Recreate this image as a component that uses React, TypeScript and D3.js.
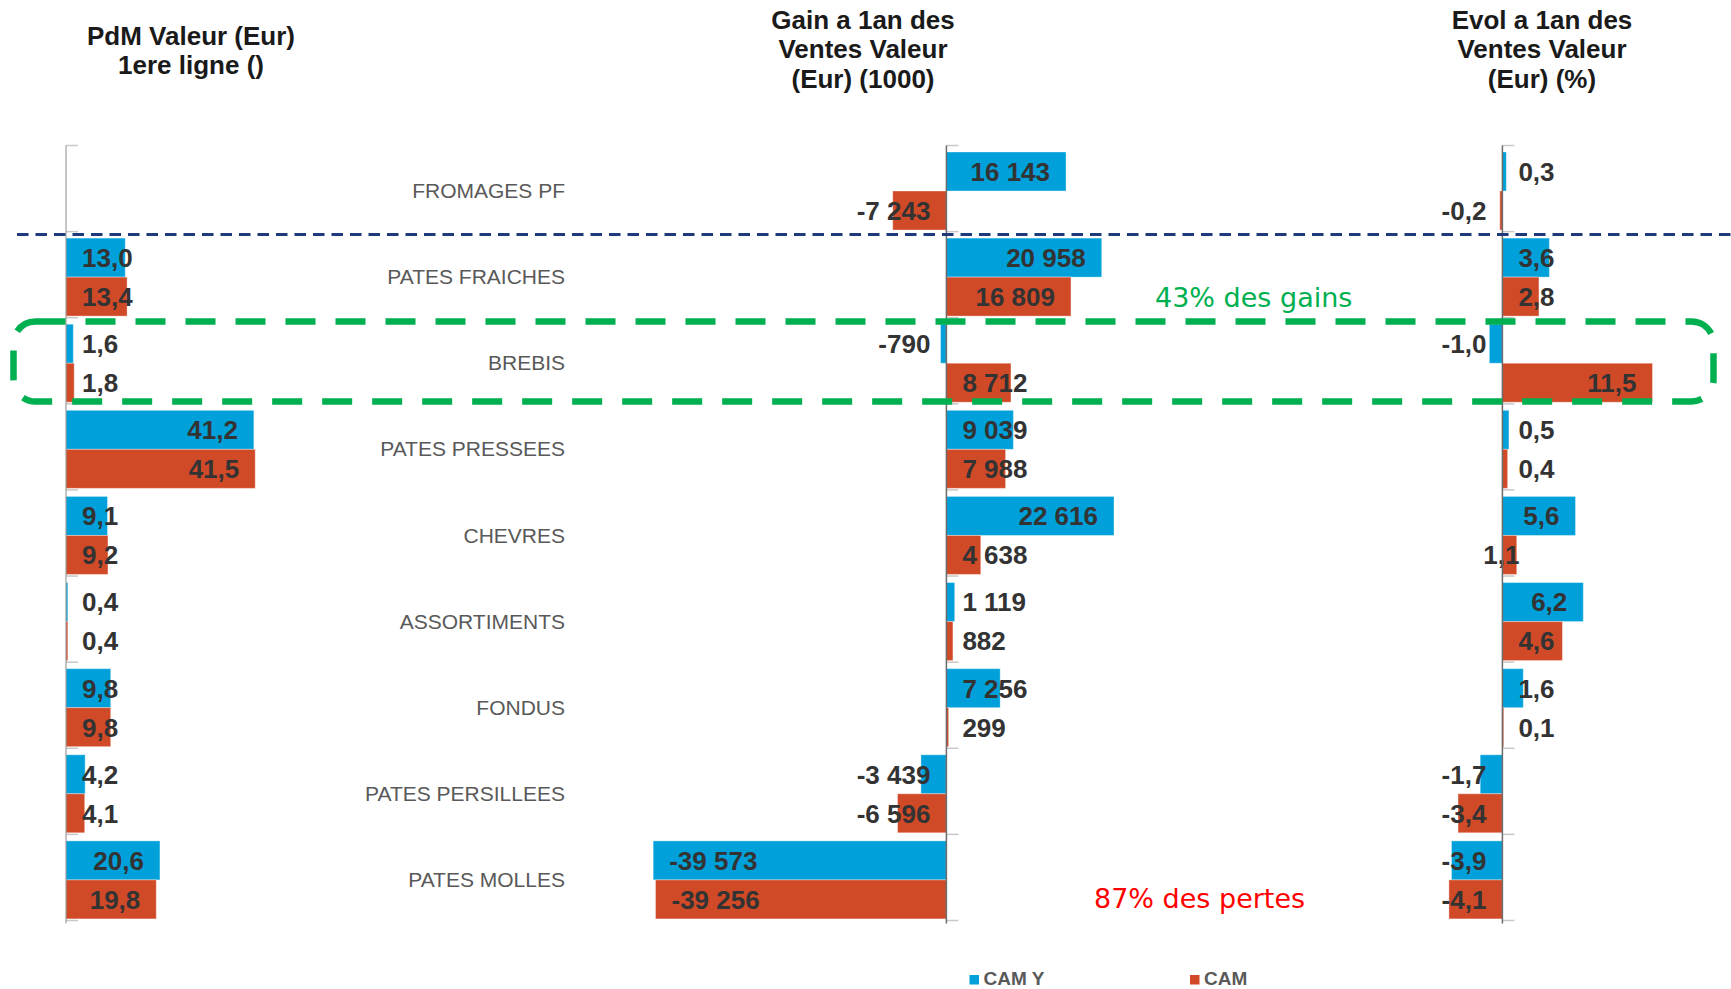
import React from "react";
import * as d3 from "d3";

// --- data ---
const categories = [
  "FROMAGES PF",
  "PATES FRAICHES",
  "BREBIS",
  "PATES PRESSEES",
  "CHEVRES",
  "ASSORTIMENTS",
  "FONDUS",
  "PATES PERSILLEES",
  "PATES MOLLES",
];
const seriesNames = ["CAM Y", "CAM"];

const pdmCamY = [null, 13.0, 1.6, 41.2, 9.1, 0.4, 9.8, 4.2, 20.6];
const pdmCam = [null, 13.4, 1.8, 41.5, 9.2, 0.4, 9.8, 4.1, 19.8];

const gainCamY = [16143, 20958, -790, 9039, 22616, 1119, 7256, -3439, -39573];
const gainCam = [-7243, 16809, 8712, 7988, 4638, 882, 299, -6596, -39256];

const evolCamY = [0.3, 3.6, -1.0, 0.5, 5.6, 6.2, 1.6, -1.7, -3.9];
const evolCam = [-0.2, 2.8, 11.5, 0.4, 1.1, 4.6, 0.1, -3.4, -4.1];

const titles = [
  ["PdM Valeur (Eur)", "1ere ligne ()"],
  ["Gain a 1an des", "Ventes Valeur", "(Eur) (1000)"],
  ["Evol a 1an des", "Ventes Valeur", "(Eur) (%)"],
];

const BLUE = "#00a1da";
const ORANGE = "#d14a28";
const colors = [BLUE, ORANGE];

const locale = d3.formatLocale({
  decimal: ",",
  thousands: " ",
  grouping: [3],
  currency: ["", ""],
  minus: "-",
});
const fmt1 = locale.format(".1f");
const fmt0 = locale.format(",.0f");

const W = 1731;
const H = 989;
const LABEL_FONT = "bold 26px 'Liberation Sans', Arial, sans-serif";

let ctx: CanvasRenderingContext2D | null = null;
function textWidth(s: string) {
  if (!ctx) ctx = document.createElement("canvas").getContext("2d");
  if (!ctx) return s.length * 13;
  ctx.font = LABEL_FONT;
  return ctx.measureText(s).width;
}

const y = d3.scaleBand<string>().domain(categories).range([145.5, 920.5]);
const ySub = d3.scaleBand<string>().domain(seriesNames).range([6.5, 84.5]);

type PanelProps = {
  x: d3.ScaleLinear<number, number>;
  data: (number | null)[][];
  fmt: (v: number) => string;
  axisColor: string;
  axisWidth: number;
  // labels drawn ending next to the axis whatever their value (Excel quirk)
  pinned?: { cat: string; s: number }[];
};

function Panel({ x, data, fmt, axisColor, axisWidth, pinned = [] }: PanelProps) {
  const x0 = x(0);
  const [top, bottom] = y.range();
  const pad = 16;
  return (
    <g>
      {data.map((vals, si) =>
        vals.map((v, ci) => {
          if (v === null) return null;
          const cat = categories[ci];
          const yy = (y(cat) ?? 0) + (ySub(seriesNames[si]) ?? 0);
          const h = ySub.bandwidth();
          const xv = x(v);
          const label = fmt(v);
          const w = textWidth(label);
          let tx: number;
          let anchor: "start" | "end";
          if (pinned.some((p) => p.cat === cat && p.s === si)) {
            tx = x0 + 17;
            anchor = "end";
          } else if (v >= 0) {
            tx = Math.max(xv - pad, x0 + pad + w);
            anchor = "end";
          } else {
            tx = Math.min(xv + pad, x0 - pad - w);
            anchor = "start";
          }
          return (
            <g key={`${si}-${ci}`}>
              <rect
                x={Math.min(x0, xv)}
                y={yy}
                width={Math.abs(xv - x0)}
                height={h}
                fill={colors[si]}
                stroke="#ffffff"
                strokeOpacity={0.35}
                strokeWidth={1}
              />
              <text
                x={tx}
                y={yy + h / 2}
                dy="0.36em"
                textAnchor={anchor}
                fill="#333333"
                style={{ font: LABEL_FONT }}
              >
                {label}
              </text>
            </g>
          );
        })
      )}
      {/* category axis ticks */}
      {[...categories.map((c) => y(c) ?? 0), bottom].map((ty, i) => (
        <line key={i} x1={x0} x2={x0 + 12} y1={ty} y2={ty} stroke="#c8c8c8" strokeWidth={1.5} />
      ))}
      <line x1={x0} x2={x0} y1={top} y2={bottom + 3} stroke={axisColor} strokeWidth={axisWidth} />
    </g>
  );
}

export default function App() {
  const x1 = d3.scaleLinear().domain([0, 50]).range([66, 66 + 228]);
  const x2 = d3.scaleLinear().domain([-40000, 25000]).range([946.4 - 296.4, 946.4 + 185.25]);
  const x3 = d3.scaleLinear().domain([-5, 15]).range([1502.4 - 65.25, 1502.4 + 195.75]);

  const titleX = [191, 863, 1542];
  const titleY = [[44.5, 73.5], [29, 58, 87.5], [29, 58, 87.5]];

  return (
    <svg
      width={W}
      height={H}
      style={{ position: "absolute", left: 0, top: 0, background: "#ffffff" }}
      fontFamily="'Liberation Sans', Arial, sans-serif"
    >
      {titles.map((lines, i) => (
        <text
          key={i}
          x={titleX[i]}
          textAnchor="middle"
          fontSize={26}
          fontWeight="bold"
          fill="#1a1a1a"
        >
          {lines.map((l, j) => (
            <tspan key={j} x={titleX[i]} y={titleY[i][j]}>
              {l}
            </tspan>
          ))}
        </text>
      ))}

      {categories.map((c) => (
        <text
          key={c}
          x={565}
          y={(y(c) ?? 0) + y.bandwidth() / 2 + 2}
          dy="0.36em"
          textAnchor="end"
          fontSize={21}
          fill="#595959"
        >
          {c}
        </text>
      ))}

      <Panel x={x1} data={[pdmCamY, pdmCam]} fmt={fmt1} axisColor="#8c8c8c" axisWidth={1} />
      <Panel x={x2} data={[gainCamY, gainCam]} fmt={fmt0} axisColor="#6b6b6b" axisWidth={1.5} />
      <Panel
        x={x3}
        data={[evolCamY, evolCam]}
        fmt={fmt1}
        axisColor="#6b6b6b"
        axisWidth={1.5}
        pinned={[{ cat: "CHEVRES", s: 1 }]}
      />

      {/* separator under FROMAGES PF */}
      <line
        x1={17}
        x2={W}
        y1={234.5}
        y2={234.5}
        stroke="#1f3a7a"
        strokeWidth={3}
        strokeDasharray="11.5 7"
      />

      {/* highlight around BREBIS */}
      <rect
        x={13.5}
        y={321.5}
        width={1700}
        height={80}
        rx={22}
        fill="none"
        stroke="#00b050"
        strokeWidth={6.5}
        strokeDasharray="30 20"
      />

      <text
        x={1155}
        y={297}
        dy="0.36em"
        fontFamily="'DejaVu Sans', Verdana, sans-serif"
        fontSize={27}
        fill="#00b050"
      >
        43% des gains
      </text>
      <text
        x={1094}
        y={898}
        dy="0.36em"
        fontFamily="'DejaVu Sans', Verdana, sans-serif"
        fontSize={27}
        fill="#ff0000"
      >
        87% des pertes
      </text>

      {/* legend */}
      {seriesNames.map((s, i) => {
        const lx = [969.5, 1190][i];
        return (
          <g key={s}>
            <rect x={lx} y={975} width={9.5} height={9.5} fill={colors[i]} />
            <text x={lx + 14} y={985} fontSize={19} fontWeight="bold" fill="#595959">
              {s}
            </text>
          </g>
        );
      })}
    </svg>
  );
}
